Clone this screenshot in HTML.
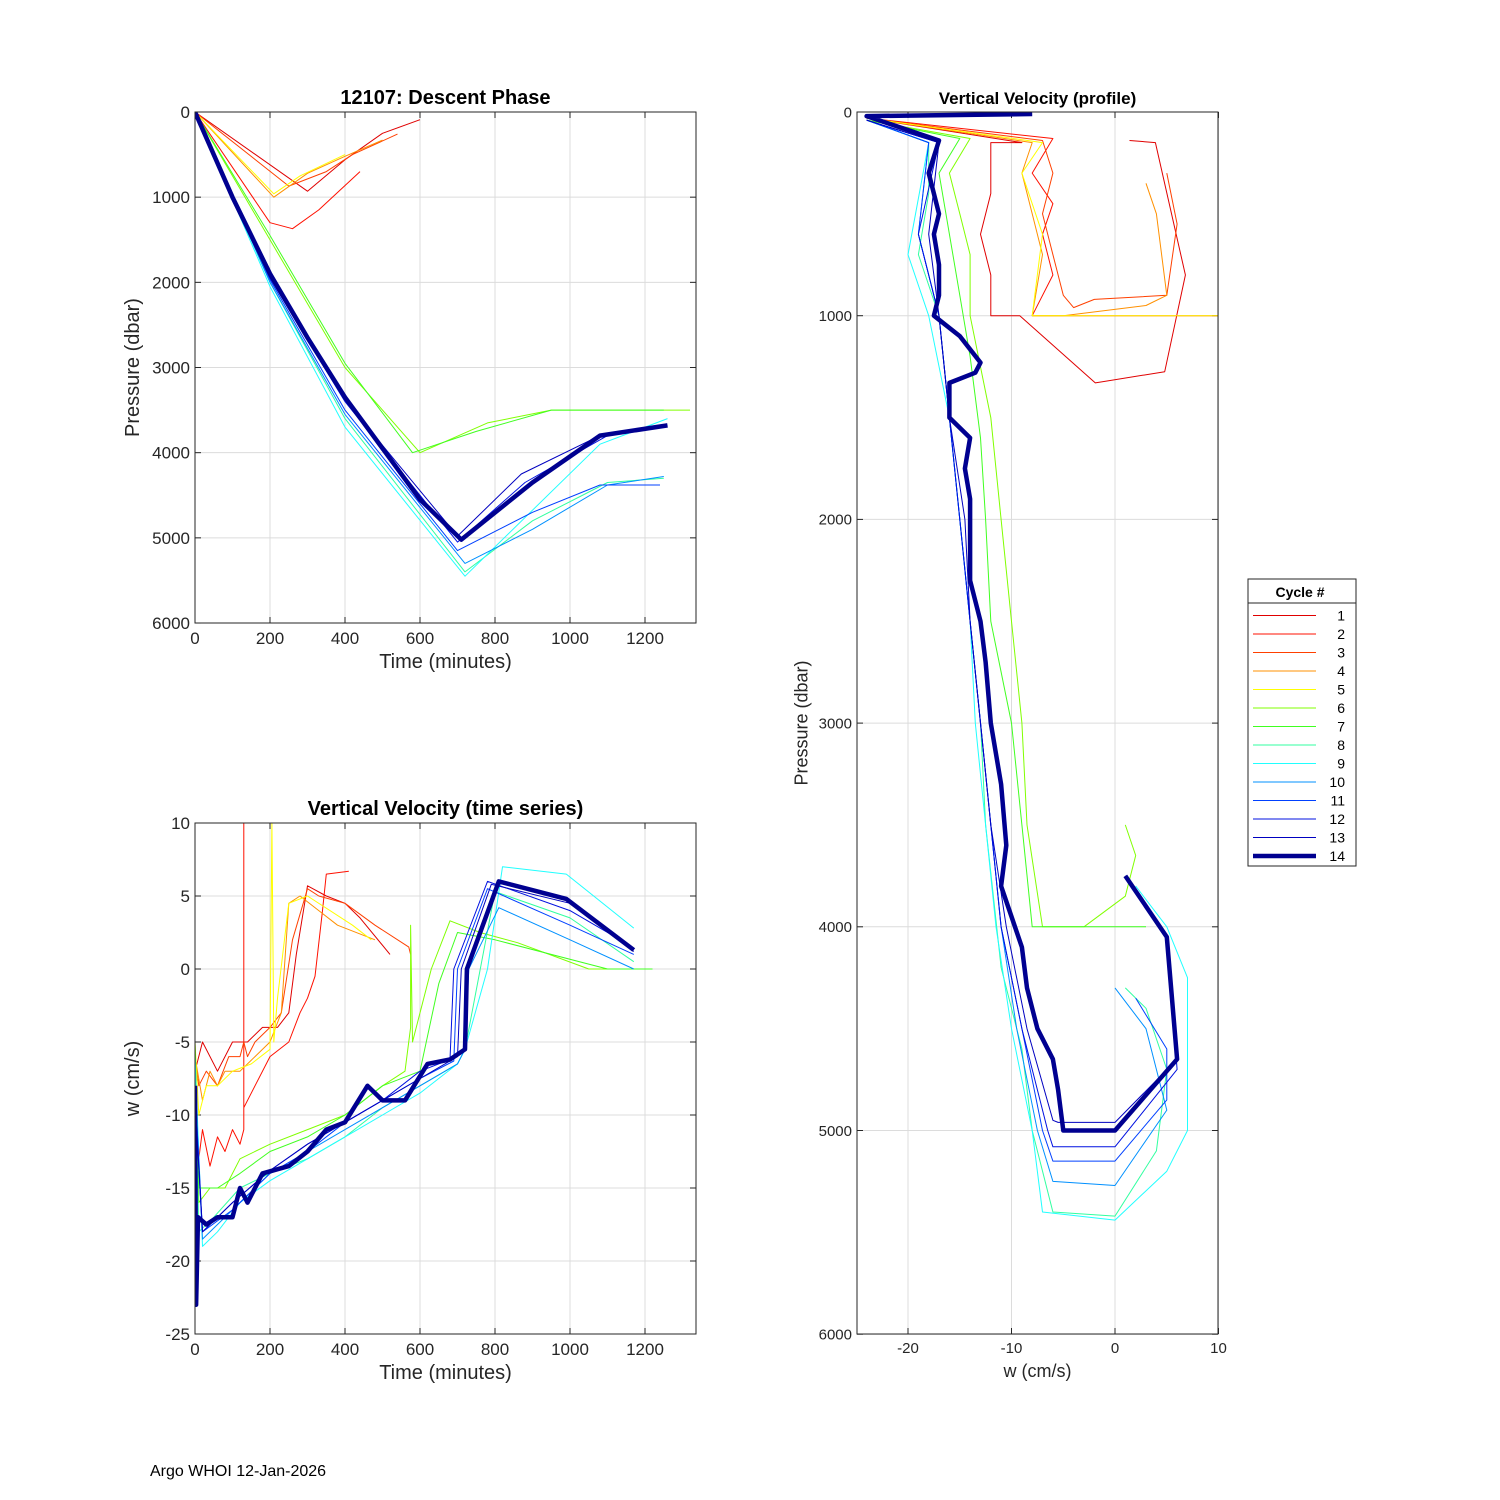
<!DOCTYPE html>
<html><head><meta charset="utf-8">
<style>
body{margin:0;background:#fff;}
svg{display:block;font-family:"Liberation Sans","DejaVu Sans",sans-serif;}
</style></head>
<body>
<svg id="fig" width="1500" height="1500" viewBox="0 0 1500 1500">
<rect width="1500" height="1500" fill="#fff"/>
<g id="ax1"></g>
<g id="ax2"></g>
<g id="ax3"></g>
<g id="legend"></g>
<text x="150" y="1476" font-size="16">Argo WHOI 12-Jan-2026</text>
</svg>
<script>
const NS="http://www.w3.org/2000/svg";
const colors=["#e00000","#ff1000","#ff4000","#ff9000","#ffff00","#80ff00","#40ff20","#30ffa0","#20ffff","#0090ff","#0040ff","#0010e0","#0000c0","#000090"];
const cycleLabels=["1","2","3","4","5","6","7","8","9","10","11","12","13","14"];

// Descent phase: time (min), pressure (dbar)
const descTime=[
[0,300,400,500,600],[0,200,260,330,440],[0,250,350,420,540],[0,210,300,400,500],[0,210,280,400],
[0,200,400,600,780,950,1320],[0,200,400,580,750,950,1250],
[0,200,400,720,900,1100,1250],[0,200,400,720,1080,1260],[0,200,400,720,900,1100,1250],
[0,200,400,700,900,1080,1240],[0,200,400,700,880,1100,1260],[0,200,400,700,870,1080,1260],
[0,100,200,300,400,500,600,710,900,1080,1260]];
const descPres=[
[0,930,560,250,90],[0,1300,1370,1150,700],[0,870,700,500,260],[0,1000,720,520,330],[0,960,750,500],
[0,1500,3000,4000,3650,3500,3500],[0,1450,2950,4000,3750,3500,3500],
[0,2000,3600,5400,4800,4350,4300],[0,2050,3700,5450,3900,3600],[0,2000,3550,5300,4900,4380,4280],
[0,1970,3500,5150,4700,4380,4380],[0,1950,3400,5050,4350,3800,3680],[0,1930,3380,4980,4250,3800,3680],
[0,1000,1900,2650,3350,3950,4550,5020,4350,3800,3680]];

// Time series: time (min), w (cm/s)
const tsTime=[
[0,20,60,100,140,180,220,250,270,300,350,400,440,520],
[0,10,20,40,60,80,100,120,130,130,130,160,200,250,280,300,320,340,350,410],
[0,10,30,60,90,120,130,140,160,200,230,260,300,330,400,480,570,575],
[0,20,40,60,80,120,160,200,230,250,280,330,380,480],
[0,10,30,60,100,150,200,205,210,220,250,300,420,470],
[0,10,40,80,120,200,300,400,500,560,575,575,580,630,680,760,860,1050,1200],
[0,10,60,120,200,300,400,500,600,650,700,800,1100,1220],
[0,10,50,120,200,300,400,500,600,700,720,800,1000,1170],
[0,20,60,120,200,300,400,500,600,700,720,780,820,990,1170],
[0,20,100,200,300,400,500,600,700,720,730,810,1000,1170],
[0,20,100,200,300,400,500,600,690,700,780,1000,1170],
[0,20,100,200,300,400,500,600,680,690,780,1000,1160],
[0,20,100,200,300,400,500,600,700,710,790,1000,1170],
[0,3,8,30,60,100,120,140,180,250,300,350,400,460,500,560,620,680,720,725,810,990,1170]];
const tsW=[
[-7,-5,-7,-5,-5,-4,-4,-3,1,5.7,5,4.5,3.5,1],
[-8,-13,-11,-13.5,-11.5,-12.5,-11,-12,-11,10,-9.5,-8,-6,-5,-3,-2,-0.5,4,6.5,6.7],
[-6,-8,-7,-8,-6,-6,-5,-6,-5,-4,-3,2,5.5,5,4.5,3,1.5,1],
[-6,-9,-7,-8,-7,-7,-6,-5,-3,4.5,5,4,3,2],
[-5,-10,-8,-8,-7,-6.5,-5.5,10,-5,-2,4.5,5,3,2],
[-6,-16,-15,-15,-13,-12,-11,-10,-8,-7,-4,3,-5,0,3.3,2.5,1.8,0,0],
[-5,-15,-15,-14,-12.5,-11.5,-10,-8,-7,-1,2.5,2,0,0],
[-6,-18,-17,-15,-14,-13,-11.5,-9.5,-8,-6.5,-5.5,5.3,3.5,0.5],
[-6,-19,-18,-16,-14.5,-13,-11.5,-10,-8.5,-6.5,-5.5,0,7,6.5,2.8],
[-8,-18.5,-16.5,-14,-12.5,-11,-9.5,-8,-6.5,-5.5,0,4.2,2,0],
[-8,-18,-16.5,-14,-12.5,-10.5,-9,-7.5,-6.3,0,5.5,3,1],
[-9,-18,-16,-13.8,-12,-10.5,-9,-7,-6.2,0,6,4,1.6],
[-9,-18,-16,-13.8,-12,-10.5,-9,-7.5,-6,0,5.8,4.5,1.2],
[-8,-23,-17,-17.5,-17,-17,-15,-16,-14,-13.5,-12.5,-11,-10.5,-8,-9,-9,-6.5,-6.2,-5.5,0,6,4.8,1.3]];

// Profile: w (cm/s), pressure (dbar)
const profW=[
[-24,-9,-12,-12,-13,-12,-12,-9.2,-1.9,4.8,6.8,3.9,1.4],
[-24,-6,-8,-6,-7,-6,-8,-8,10],
[-24,-7,-6,-7,-6,-5,-4,-2,5,6,5],
[-24,-8,-9,-8,-7,-8,-5,3,5,4,3],
[-24,-7,-9,-7,-8,10],
[-24,-14,-16,-15,-14,-14,-12,-11,-10,-9,-8.5,-7,-3,1,2,1],
[-24,-15,-17,-16,-15,-14,-13,-12.5,-12,-10,-9,-8,3],
[-24,-18,-18,-19,-17,-16,-15,-14,-13,-12.5,-11,-9,-8,-6,0,4,5,3,1],
[-24,-18,-20,-18,-16,-15,-14,-13.5,-12.5,-11.5,-10,-8,-7,0,5,7,7,5,2],
[-24,-18,-19,-17,-16,-15,-14,-13,-12,-11,-9.5,-7.5,-6,0,5,3,0],
[-24,-18,-19,-17,-16,-15,-14,-13,-12,-11,-9,-7,-6,0,5,5,2,0],
[-24,-17,-19,-17,-16,-15,-14,-13,-12,-11,-9,-6.5,-6,0,6,5,1],
[-24,-17,-18,-17,-16,-14.5,-14,-13,-12,-10.5,-8.5,-6,-5.5,0,6,5,1],
[-8,-24,-17,-18,-17,-17.5,-17,-17,-17.5,-15,-13,-13.5,-16,-16,-14,-14.5,-14,-14,-14,-13,-12.5,-12,-11,-10.5,-11,-10,-9,-8.5,-7.5,-6,-5.5,-5,0,6,5,1]];
const profP=[
[30,150,150,400,600,800,1000,1000,1330,1275,800,150,140],
[30,130,300,450,600,800,1000,1000,1000],
[30,140,300,500,700,900,960,920,900,550,300],
[30,150,300,500,700,1000,1000,950,900,500,350],
[30,150,300,600,1000,1000],
[40,130,300,500,700,1000,1500,2000,2500,3000,3500,4000,4000,3850,3650,3500],
[40,130,300,600,900,1200,1600,2000,2500,3000,3500,4000,4000],
[40,150,400,700,1000,1500,2000,2500,3000,3500,4200,4600,5000,5400,5420,5100,4700,4400,4300],
[40,150,700,1000,1500,2000,2500,3000,3500,4000,4500,5000,5400,5440,5200,5000,4250,4000,3800],
[40,150,600,1000,1500,2000,2500,3000,3500,4000,4500,5000,5250,5270,4900,4500,4300],
[40,150,600,1000,1500,2000,2500,3000,3500,4000,4500,5000,5150,5150,4850,4600,4350],
[40,150,600,1000,1500,2000,2500,3000,3500,4000,4500,5000,5080,5080,4700,4050,3750],
[40,150,600,1000,1500,2000,2500,3000,3500,4000,4500,4950,4960,4960,4650,4050,3750],
[10,20,140,300,500,600,750,900,1000,1100,1230,1280,1330,1500,1600,1750,1900,2100,2300,2500,2700,3000,3300,3600,3800,3950,4100,4300,4500,4650,4800,5000,5000,4650,4050,3750]];

const ax1X=[0,200,400,600,800,1000,1200], ax1Y=[0,1000,2000,3000,4000,5000,6000];
const ax2Y=[10,5,0,-5,-10,-15,-20,-25];
const ax3X=[-20,-10,0,10];

function el(parent,tag,attrs){const e=document.createElementNS(NS,tag);for(const k in attrs)e.setAttribute(k,attrs[k]);parent.appendChild(e);return e;}
function txt(parent,x,y,s,size,anchor,extra){const t=el(parent,'text',Object.assign({x:x,y:y,'font-size':size,'text-anchor':anchor||'middle',fill:'#262626'},extra||{}));t.textContent=s;return t;}

function axes(g,box,xs,ys,xt,yt,fs,xlab,ylab,title,tfs){
  const [L,T,R,B]=box;
  xt.forEach(v=>{const x=xs(v);
    const gl=el(g,'line',{x1:x,y1:T,x2:x,y2:B,stroke:'#dcdcdc','stroke-width':1});
    
    el(g,'line',{x1:x,y1:B,x2:x,y2:B-6,stroke:'#262626'});el(g,'line',{x1:x,y1:T,x2:x,y2:T+6,stroke:'#262626'});
    const t=txt(g,x,B+fs+4,String(v),fs);});
  yt.forEach(v=>{const y=ys(v);
    const gl=el(g,'line',{x1:L,y1:y,x2:R,y2:y,stroke:'#dcdcdc','stroke-width':1});
    
    el(g,'line',{x1:L,y1:y,x2:L+6,y2:y,stroke:'#262626'});el(g,'line',{x1:R,y1:y,x2:R-6,y2:y,stroke:'#262626'});
    const t=txt(g,L-5,y+fs*0.35,String(v),fs,'end');});
  const xl=txt(g,(L+R)/2,B+fs+28,xlab,fs+3);
  const yl=txt(g,0,0,ylab,fs+3,'middle',{transform:`translate(${L-(fs*3.3)},${(T+B)/2}) rotate(-90)`});
  
  const tt=txt(g,(L+R)/2,T-8,title,tfs,'middle',{'font-weight':'bold',fill:'#000'});
  
}
function frame(g,box){const [L,T,R,B]=box;const r=el(g,'rect',{x:L,y:T,width:R-L,height:B-T,fill:'none',stroke:'#262626','stroke-width':1});
  }
function series(g,xsArr,ysArr,xs,ys,name,clip){
  for(let i=0;i<xsArr.length;i++){
    const pts=xsArr[i].map((v,j)=>xs(v).toFixed(1)+','+ys(ysArr[i][j]).toFixed(1)).join(' ');
    const p=el(g,'polyline',{points:pts,fill:'none',stroke:colors[i],'stroke-width':i==13?4.5:1,'stroke-linejoin':'round','clip-path':`url(#${clip})`});
    
    
  }
}
const svg=document.getElementById('fig');
const defs=el(svg,'defs',{});
[['c1',195,112,696,623],['c2',195,823,696,1334],['c3',857,112,1218,1334]].forEach(c=>{
  const cp=el(defs,'clipPath',{id:c[0]});el(cp,'rect',{x:c[1],y:c[2],width:c[3]-c[1],height:c[4]-c[2]});});

// Axes 1
const g1=document.getElementById('ax1');
const x1=t=>195+t*0.375, y1=p=>112+p*0.08517;
axes(g1,[195,112,696,623],x1,y1,ax1X,ax1Y,17,'Time (minutes)','Pressure (dbar)','12107: Descent Phase',20);
series(g1,descTime,descPres,x1,y1,'descent-line','c1');frame(g1,[195,112,696,623]);

// Axes 2
const g2=document.getElementById('ax2');
const y2=w=>823+(10-w)*14.6;
axes(g2,[195,823,696,1334],x1,y2,ax1X,ax2Y,17,'Time (minutes)','w (cm/s)','Vertical Velocity (time series)',20);
series(g2,tsTime,tsW,x1,y2,'velocity-line','c2');frame(g2,[195,823,696,1334]);

// Axes 3
const g3=document.getElementById('ax3');
const x3=w=>1115+w*10.35, y3=p=>112+p*0.2037;
axes(g3,[857,112,1218,1334],x3,y3,ax3X,ax1Y,15,'w (cm/s)','Pressure (dbar)','Vertical Velocity (profile)',17);
series(g3,profW,profP,x3,y3,'profile-line','c3');frame(g3,[857,112,1218,1334]);

// Legend
const lg=document.getElementById('legend');
el(lg,'rect',{x:1248,y:579,width:108,height:287,fill:'#fff',stroke:'#262626'});
el(lg,'line',{x1:1248,y1:603,x2:1356,y2:603,stroke:'#262626'});
const lt=txt(lg,1300,597,'Cycle #',14,'middle',{'font-weight':'bold',fill:'#000'});

cycleLabels.forEach((s,i)=>{const y=615.5+i*18.5;
  const e=el(lg,'g',{});
  
  
  el(e,'line',{x1:1253,y1:y,x2:1316,y2:y,stroke:colors[i],'stroke-width':i==13?4.5:1});
  txt(e,1345,y+5,s,14,'end',{fill:'#000'});});
</script>
</body></html>
